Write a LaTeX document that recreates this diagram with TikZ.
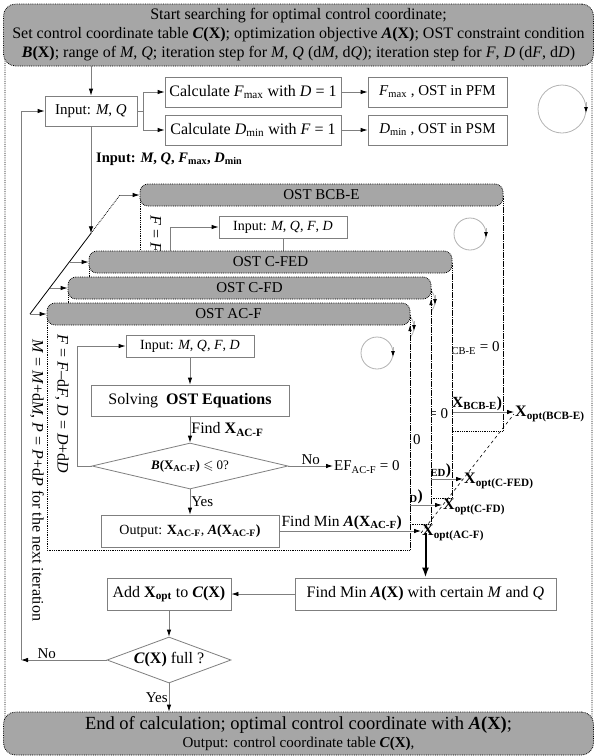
\documentclass[tikz,border=0pt]{standalone}
\usepackage{fontspec}
\setmainfont{Liberation Serif}
\usepackage{amssymb}
\usetikzlibrary{positioning,calc,arrows.meta,shapes.geometric}
\definecolor{ostgray}{HTML}{A6A6A6}
\definecolor{boxline}{HTML}{7F7F7F}
\newcommand{\fsbig}{\fontsize{16}{19}\selectfont}
\newcommand{\fsmid}{\fontsize{15}{18}\selectfont}
\newcommand{\fssmall}{\fontsize{14}{16}\selectfont}
\newcommand{\vv}[1]{\textit{#1}}
\newcommand{\fx}[1]{\textbf{\textit{#1}(X)}}
\newcommand{\fxs}[2]{\textbf{\textit{#1}(X\textsubscript{#2})}}
\newcommand{\xs}[1]{\textbf{X\textsubscript{#1}}}
\tikzset{
  box/.style={draw=boxline,line width=0.8pt,fill=white,inner sep=2pt,font=\fsbig},
  dia/.style={diamond,draw=boxline,line width=0.8pt,fill=white,inner sep=0pt,font=\fsbig},
  hdr/.style={draw,densely dotted,line width=0.8pt,fill=ostgray,rounded corners=8pt,
              minimum height=22pt,inner sep=0pt,font=\fsmid},
  frame/.style={draw,densely dotted,line width=0.8pt},
  line/.style={draw=boxline,line width=0.8pt},
  arrow/.style={line,-{Latex[length=7pt,width=4.5pt,color=black]}},
  tipup/.style={-{Latex[length=6pt,width=3.5pt,color=black]}},
  lbl/.style={font=\fsbig,inner sep=1pt},
  loopc/.style={draw=black!30,line width=0.8pt},
  looptip/.style={draw=black!30,line width=0.8pt,-{Latex[length=6pt,width=4pt,color=black]}},
}
% one OST panel: shift x, shift y, id, mode, right edge tip
\newcommand{\ostpanel}[5]{%
  \begin{scope}[shift={(#1,#2)}]
    \filldraw[frame,fill=white] (47,314) rectangle (410,550);
    \draw[frame,#5] (410,550) -- (410,325);
    \node[hdr,minimum width=363pt] (hd#3) at (228.5,314) {OST #4};
    \node[lbl,rotate=-90,anchor=west] (it#3) at (62,333)
      {\vv{F} = \vv{F}--d\vv{F}, \vv{D} = \vv{D}+d\vv{D}};
    \node[box,font=\fssmall,minimum width=128pt,minimum height=22pt] (in#3) at (190,346)
      {Input: \vv{M}, \vv{Q}, \vv{F}, \vv{D}};
    \node[box,minimum width=198pt,minimum height=31pt] (sol#3) at (190,400.5)
      {Solving \ \textbf{OST Equations}};
    \node[dia,font=\fontsize{13}{15}\selectfont,aspect=4.5,minimum width=196pt,minimum height=46pt] (chk#3) at (190,466)
      {\fxs{B}{#4} $\leqslant$ 0?};
    \node[lbl,font=\fsmid,anchor=west] (ef#3) at (333,467) {EF\textsubscript{#4} = 0};
    \node[box,font=\fssmall,minimum width=178pt,minimum height=32pt] (out#3) at (190,531)
      {Output: \xs{#4}, \fxs{A}{#4}};
    \node[lbl,anchor=west] (xo#3) at (421,533) {\textbf{X\textsubscript{opt(#4)}}};
    \draw[arrow] (in#3) -- (sol#3);
    \draw[arrow] (sol#3) -- node[lbl,right] {Find \xs{#4}} (chk#3);
    \draw[arrow] (chk#3) -- node[lbl,font=\fsmid,right] {Yes} (out#3);
    \draw[arrow] (chk#3.east) -- node[lbl,font=\fsmid,above] {No} (chk#3.east -| ef#3.west);
    \draw[arrow] (chk#3.west) -- ++(-14,0) |- (in#3.west);
    \draw[arrow] (out#3) -- (out#3 -| xo#3.west);
    \node[lbl,font=\fontsize{15.5}{18}\selectfont,anchor=south west] (fm#3) at ([xshift=1pt]out#3.east)
      {Find Min \fxs{A}{#4}};
    \draw[loopc] (377,353) circle[radius=16pt];
    \draw[looptip] (393,347) -- (393,357);
  \end{scope}}

\begin{document}
\begin{tikzpicture}[x=1pt,y=-1pt]
  \useasboundingbox (0,0) rectangle (596,756);
  \draw[frame,rounded corners=10pt] (5,10) rectangle (592,750);

  % start and end
  \node[hdr,font=\fsbig,rounded corners=12pt,minimum width=590pt,minimum height=62pt,align=center] (start) at (298.5,35)
    {Start searching for optimal control coordinate;\\
     Set control coordinate table \fx{C}; optimization objective \fx{A}; OST constraint condition\\
     \fx{B}; range of \vv{M}, \vv{Q}; iteration step for \vv{M}, \vv{Q} (d\vv{M}, d\vv{Q}); iteration step for \vv{F}, \vv{D} (d\vv{F}, d\vv{D})};
  \node[hdr,rounded corners=12pt,minimum width=590pt,minimum height=43pt,align=center] (finish) at (298.5,733.5)
    {{\fontsize{18.5}{21}\selectfont End of calculation; optimal control coordinate with \fx{A};}\\
     {\fsmid Output: control coordinate table \fx{C},}};

  % first step
  \node[box,font=\fsmid,minimum width=92pt,minimum height=30pt] (inmq) at (91,111) {Input: \vv{M}, \vv{Q}};
  \node[box,minimum width=176pt,minimum height=30pt] (calcf) at (253,92) {Calculate \vv{F}\textsubscript{max} with \vv{D} = 1};
  \node[box,minimum width=176pt,minimum height=30pt] (calcd) at (253,130) {Calculate \vv{D}\textsubscript{min} with \vv{F} = 1};
  \node[box,font=\fsmid,minimum width=139pt,minimum height=30pt] (resf) at (437.5,92) {\vv{F}\textsubscript{max} , OST in PFM};
  \node[box,font=\fsmid,minimum width=139pt,minimum height=30pt] (resd) at (437.5,130) {\vv{D}\textsubscript{min} , OST in PSM};
  \draw[arrow] (start.south -| inmq) -- (inmq);
  \draw[arrow] (inmq.east) -- ++(6,0) |- (calcf.west);
  \draw[arrow] (inmq.east) -- ++(6,0) |- (calcd.west);
  \draw[arrow] (calcf) -- (resf);
  \draw[arrow] (calcd) -- (resd);
  \draw[loopc] (562,109) circle[radius=24pt];
  \draw[looptip] (586,102) -- (586,113);
  \node[lbl,anchor=west,font=\fontsize{14.5}{17}\selectfont\bfseries] (inall) at (95,159)
    {Input: \vv{M}, \vv{Q}, \vv{F}\textsubscript{max}, \vv{D}\textsubscript{min}};

  % the four OST panels
  \ostpanel{93}{-119}{bcbe}{BCB-E}{}
  \ostpanel{42}{-52}{cfed}{C-FED}{}
  \ostpanel{21}{-26}{cfd}{C-FD}{tipup}
  \ostpanel{0}{0}{acf}{AC-F}{tipup}

  % feed line into the panels
  \coordinate (dgbot) at (30,314);
  \coordinate (dgtop) at (120,195);
  \coordinate (dgin) at (91,233.3);
  \coordinate (dgcfed) at (69.3,262);
  \coordinate (dgcfd) at (49.7,288);
  \draw[line,draw=black] (dgbot) -- (dgin);
  \draw[frame] (dgin) -- (dgtop);
  \draw[arrow] (inmq.south) -- (dgin);
  \draw[arrow] (dgtop) -- (hdbcbe.west);
  \draw[arrow] (dgcfed) -- (hdcfed.west);
  \draw[arrow] (dgcfd) -- (hdcfd.west);
  \draw[arrow] (dgbot) -- (hdacf.west);
  \draw[dashed,line width=0.6pt] (xoacf.west) -- (xobcbe.west);

  % after the panels
  \node[box,minimum width=261pt,minimum height=32pt] (findmin) at (425.5,594)
    {Find Min \fx{A} with certain \vv{M} and \vv{Q}};
  \node[box,minimum width=124pt,minimum height=32pt] (addx) at (169,594)
    {Add \textbf{X\textsubscript{opt}} to \fx{C}};
  \node[dia,aspect=2.5,minimum width=124pt,minimum height=46pt] (full) at (169,660) {\fx{C} full ?};
  \draw[line width=2pt,-{Latex[length=10pt,width=7pt]}] (findmin.north |- xoacf) -- (findmin.north);
  \draw[arrow] (findmin) -- (addx);
  \draw[arrow] (addx) -- (full);
  \draw[arrow] (full) -- node[lbl,font=\fsmid,left] {Yes} (finish.north -| full);
  \coordinate (noend) at (21,660);
  \draw[arrow] (full) -- node[lbl,font=\fsmid,above,pos=0.7] {No} (noend);
  \draw[arrow] (noend) |- (inmq.west);
  \node[lbl,rotate=-90,anchor=west] (iter) at (37,338)
    {\vv{M} = \vv{M}+d\vv{M}, \vv{P} = \vv{P}+d\vv{P} for the next iteration};
\end{tikzpicture}
\end{document}
